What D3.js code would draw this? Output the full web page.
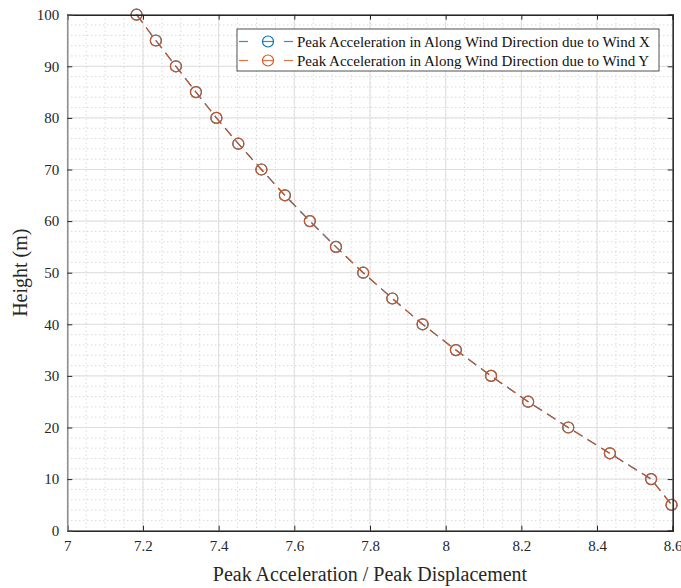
<!DOCTYPE html>
<html>
<head>
<meta charset="utf-8">
<script src="https://cdn.jsdelivr.net/npm/d3@7"></script>
<style>
  body { margin: 0; background: #fff; }
  svg { display: block; font-family: "Liberation Serif", "Times New Roman", serif; }
</style>
</head>
<body>
<div id="canvas"></div>
<script>
const heights = [100, 95, 90, 85, 80, 75, 70, 65, 60, 55, 50, 45, 40, 35, 30, 25, 20, 15, 10, 5];
const windX = [7.183, 7.234, 7.287, 7.340, 7.394, 7.452, 7.513, 7.575, 7.641, 7.710,
               7.782, 7.859, 7.939, 8.027, 8.120, 8.218, 8.324, 8.434, 8.543, 8.597];
const windY = [7.183, 7.234, 7.287, 7.340, 7.394, 7.452, 7.513, 7.575, 7.641, 7.710,
               7.782, 7.859, 7.939, 8.027, 8.120, 8.218, 8.324, 8.434, 8.543, 8.597];
const xTicks = [7, 7.2, 7.4, 7.6, 7.8, 8, 8.2, 8.4, 8.6];
const yTicks = [0, 10, 20, 30, 40, 50, 60, 70, 80, 90, 100];
const seriesNames = ["Peak Acceleration in Along Wind Direction due to Wind X",
                     "Peak Acceleration in Along Wind Direction due to Wind Y"];
const seriesColors = ["#0072BD", "#D95319"];

const serif = "'Liberation Serif', 'Times New Roman', serif";
const canvas = d3.select("#canvas");
const width = 681;
const height = 588;
const margin = { top: 14.7, left: 67.3, bottom: 57.3, right: 8.3 };
const iwidth = width - margin.left - margin.right;
const iheight = height - margin.top - margin.bottom;

const svg = canvas.append("svg").attr("width", width).attr("height", height);
const g = svg.append("g").attr("transform", `translate(${margin.left},${margin.top})`);

const x = d3.scaleLinear().domain([7, 8.6]).range([0, iwidth]);
const y = d3.scaleLinear().domain([0, 100]).range([iheight, 0]);

// minor grid (dotted)
const xMinor = d3.range(7, 8.6001, 0.05).map(v => +v.toFixed(2));
const yMinor = d3.range(0, 100.001, 2);
g.append("g").selectAll("line").data(xMinor).enter().append("line")
  .attr("x1", d => x(d)).attr("x2", d => x(d)).attr("y1", 0).attr("y2", iheight)
  .attr("stroke", "#c8c8c8").attr("stroke-width", 1).attr("stroke-dasharray", "1,3");
g.append("g").selectAll("line").data(yMinor).enter().append("line")
  .attr("y1", d => y(d)).attr("y2", d => y(d)).attr("x1", 0).attr("x2", iwidth)
  .attr("stroke", "#c8c8c8").attr("stroke-width", 1).attr("stroke-dasharray", "1,3");

// major grid
g.append("g").selectAll("line").data(xTicks).enter().append("line")
  .attr("x1", d => x(d)).attr("x2", d => x(d)).attr("y1", 0).attr("y2", iheight)
  .attr("stroke", "#dedede").attr("stroke-width", 1);
g.append("g").selectAll("line").data(yTicks).enter().append("line")
  .attr("y1", d => y(d)).attr("y2", d => y(d)).attr("x1", 0).attr("x2", iwidth)
  .attr("stroke", "#dedede").attr("stroke-width", 1);

// series (Y drawn over X, slightly see-through)
const seriesData = [windX, windY];
const line = d3.line().x(d => x(d[0])).y(d => y(d[1]));
seriesData.forEach((vals, i) => {
  const pts = vals.map((v, j) => [v, heights[j]]);
  const opacity = i === 1 ? 0.92 : 1;
  g.append("path").datum(pts)
    .attr("d", line)
    .attr("fill", "none")
    .attr("stroke", seriesColors[i])
    .attr("stroke-opacity", opacity)
    .attr("stroke-width", 1.2)
    .attr("stroke-dasharray", "10,6");
  g.append("g").selectAll("circle").data(pts).enter().append("circle")
    .attr("cx", d => x(d[0])).attr("cy", d => y(d[1]))
    .attr("r", 5.5)
    .attr("fill", "none")
    .attr("stroke", seriesColors[i])
    .attr("stroke-opacity", opacity)
    .attr("stroke-width", 1.2);
});

// axes
const axisColor = "#262626";
const xAxis = g.append("g").attr("transform", `translate(0,${iheight})`)
  .call(d3.axisBottom(x).tickValues(xTicks).tickSize(-5).tickPadding(10).tickFormat(d3.format("")));
const xTop = g.append("g")
  .call(d3.axisTop(x).tickValues(xTicks).tickSize(-5).tickFormat(""));
const yAxis = g.append("g")
  .call(d3.axisLeft(y).tickValues(yTicks).tickSize(-5).tickPadding(8));
const yRight = g.append("g").attr("transform", `translate(${iwidth},0)`)
  .call(d3.axisRight(y).tickValues(yTicks).tickSize(-5).tickFormat(""));

[xAxis, xTop, yAxis, yRight].forEach(a => {
  a.attr("font-family", serif).attr("font-size", 15);
  a.selectAll("path").attr("stroke", axisColor).attr("stroke-width", 1.5);
  a.selectAll("line").attr("stroke", axisColor).attr("stroke-width", 1);
  a.selectAll("text").attr("fill", axisColor);
});
yAxis.select("path").attr("stroke", "#8a8a8a");

// axis labels
svg.append("text")
  .attr("x", margin.left + iwidth / 2).attr("y", 581)
  .attr("text-anchor", "middle")
  .attr("fill", axisColor)
  .attr("font-family", serif)
  .attr("font-size", 20)
  .text("Peak Acceleration / Peak Displacement");

svg.append("text")
  .attr("transform", `translate(27,${margin.top + iheight / 2}) rotate(-90)`)
  .attr("text-anchor", "middle")
  .attr("fill", axisColor)
  .attr("font-family", serif)
  .attr("font-size", 20)
  .text("Height (m)");

// legend
const legend = svg.append("g").attr("transform", "translate(237,29)");
legend.append("rect")
  .attr("width", 422).attr("height", 42)
  .attr("fill", "#fff").attr("stroke", "#262626").attr("stroke-width", 0.8);
seriesNames.forEach((name, i) => {
  const row = legend.append("g").attr("transform", `translate(0,${12.5 + i * 19})`);
  [[2, 11], [47, 56]].forEach(seg => {
    row.append("line").attr("x1", seg[0]).attr("x2", seg[1]).attr("y1", 0).attr("y2", 0)
      .attr("stroke", seriesColors[i]).attr("stroke-opacity", 0.8).attr("stroke-width", 1.2);
  });
  row.append("circle").attr("cx", 31).attr("cy", 0).attr("r", 5.5)
    .attr("fill", "none").attr("stroke", seriesColors[i]).attr("stroke-width", 1.2);
  row.append("line").attr("x1", 26).attr("x2", 36).attr("y1", 0).attr("y2", 0)
    .attr("stroke", seriesColors[i]).attr("stroke-opacity", 0.8).attr("stroke-width", 1.2);
  row.append("text").attr("x", 60).attr("y", 5)
    .attr("fill", "#111")
    .attr("font-family", serif)
    .attr("font-size", 15)
    .text(name);
});
</script>
</body>
</html>
